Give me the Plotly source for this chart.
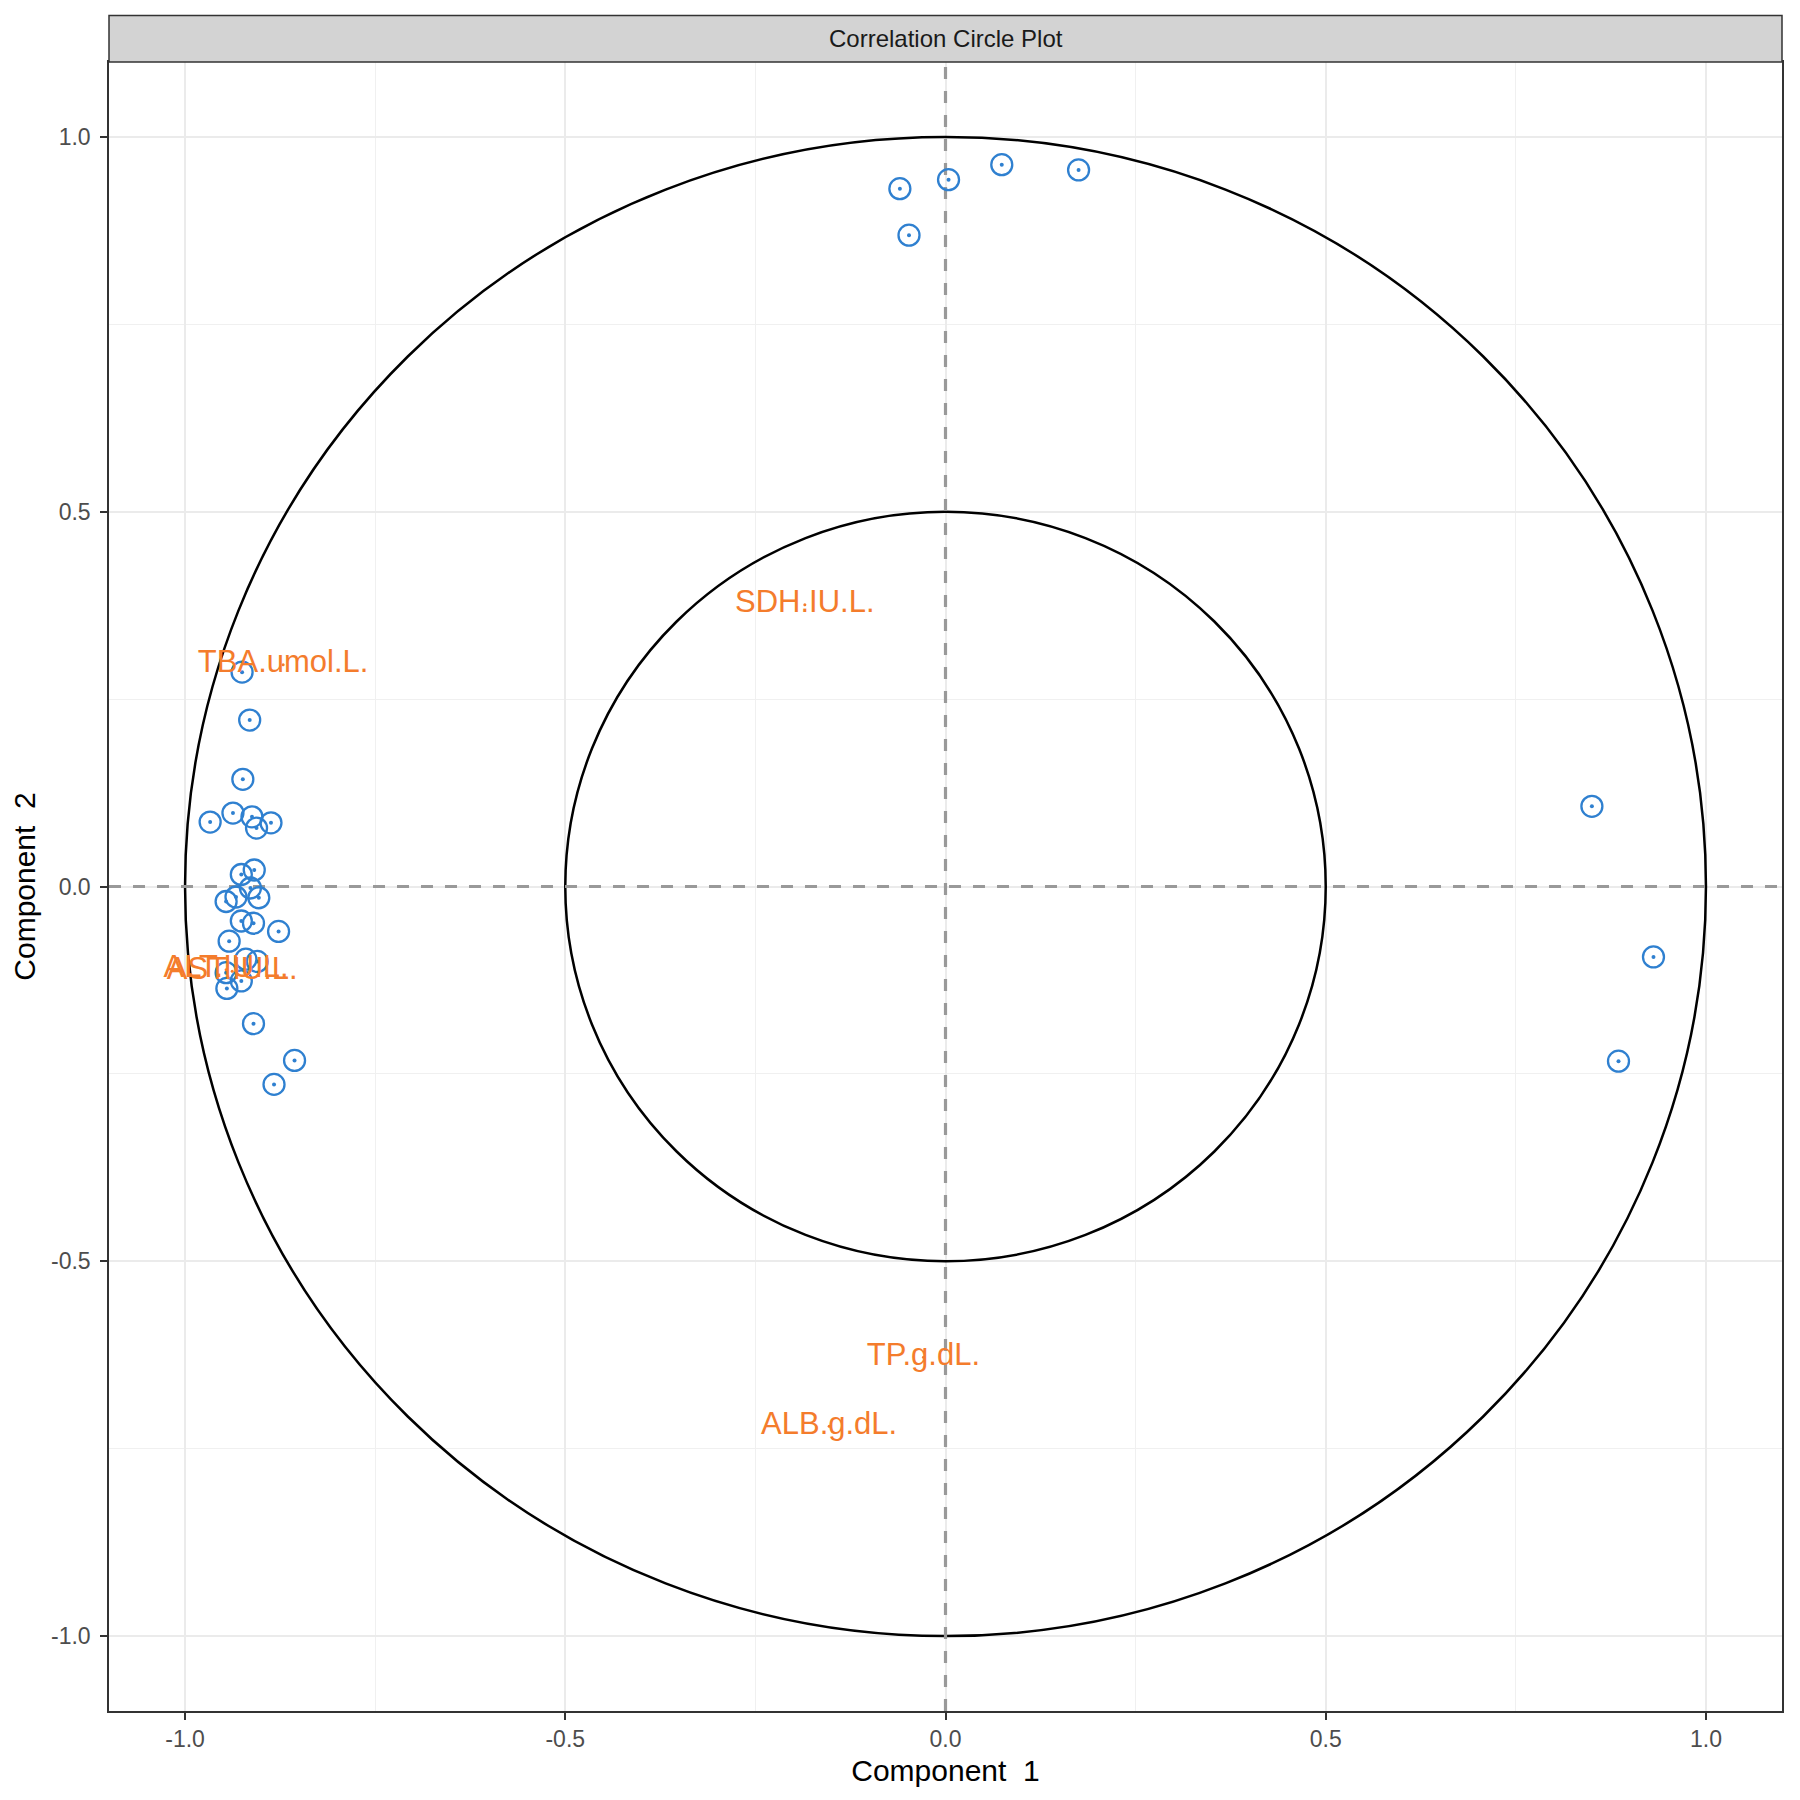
import plotly.graph_objects as go

# sample coordinates on the two components
comp1 = [-0.060, 0.004, 0.074, 0.175, -0.048,
         0.850, 0.931, 0.885,
         -0.925, -0.915, -0.924, -0.967, -0.937, -0.912, -0.906, -0.887,
         -0.909, -0.926, -0.914, -0.933, -0.946, -0.903, -0.926, -0.910,
         -0.877, -0.942, -0.920, -0.905, -0.946, -0.926, -0.945, -0.910,
         -0.856, -0.883]
comp2 = [0.931, 0.943, 0.963, 0.956, 0.869,
         0.107, -0.094, -0.233,
         0.286, 0.222, 0.143, 0.086, 0.098, 0.093, 0.078, 0.085,
         0.022, 0.016, -0.002, -0.014, -0.020, -0.015, -0.046, -0.049,
         -0.060, -0.073, -0.097, -0.100, -0.115, -0.126, -0.136, -0.183,
         -0.232, -0.264]

# variable labels
var_names = ["TBA.umol.L.", "SDH.IU.L.", "TP.g.dL.", "ALB.g.dL.", "ALT.IU.L.", "AST.IU.L."]
var_x = [-0.871, -0.185, -0.029, -0.153, -0.946, -0.938]
var_y = [0.296, 0.376, -0.628, -0.720, -0.111, -0.113]

circle_radii = [1.0, 0.5]
axis_range = [-1.1, 1.1]
tick_vals = [-1.0, -0.5, 0.0, 0.5, 1.0]
tick_text = ["-1.0", "-0.5", "0.0", "0.5", "1.0"]
minor_vals = [-0.75, -0.25, 0.25, 0.75]

blue = "#2F80D0"
orange = "#F47C2C"
font = "Liberation Sans, Arial, sans-serif"

fig = go.Figure()

# dashed zero lines (as traces so they sit above the grid)
dash_line = dict(color="#999999", width=3.2, dash="12px,12px")
fig.add_trace(go.Scatter(x=[0, 0], y=axis_range, mode="lines", line=dash_line,
                         showlegend=False, hoverinfo="skip"))
fig.add_trace(go.Scatter(x=axis_range, y=[0, 0], mode="lines", line=dash_line,
                         showlegend=False, hoverinfo="skip"))

# open circles + centre dots
fig.add_trace(go.Scatter(x=comp1, y=comp2, mode="markers",
                         marker=dict(symbol="circle-open", size=21, color=blue,
                                     line=dict(width=2.3, color=blue)),
                         showlegend=False, hoverinfo="skip"))
fig.add_trace(go.Scatter(x=comp1, y=comp2, mode="markers",
                         marker=dict(symbol="circle", size=4, color=blue),
                         showlegend=False, hoverinfo="skip"))

fig.add_trace(go.Scatter(x=var_x, y=var_y, mode="markers+text",
                         text=var_names, textposition="middle center",
                         textfont=dict(family=font, size=31, color=orange),
                         marker=dict(size=3, color=orange),
                         showlegend=False, hoverinfo="skip"))

shapes = []
for r in circle_radii:
    shapes.append(dict(type="circle", xref="x", yref="y", x0=-r, x1=r, y0=-r, y1=r,
                       line=dict(color="black", width=2.5), layer="between"))
# facet strip
shapes.append(dict(type="rect", xref="paper", yref="paper", x0=0, x1=1, y0=1, y1=1.0282,
                   fillcolor="#d3d3d3", line=dict(color="#333333", width=1.5), layer="above"))

axis_style = dict(range=axis_range, tickvals=tick_vals, ticktext=tick_text, automargin=False,
                  showgrid=True, gridcolor="#ebebeb", gridwidth=2.3,
                  minor=dict(tickvals=minor_vals, showgrid=True, gridcolor="#f0f0f0", gridwidth=1.2),
                  zeroline=False, showline=True, mirror=True, linecolor="#333333", linewidth=1.5,
                  ticks="outside", ticklen=7, tickwidth=1.5, tickcolor="#333333",
                  tickfont=dict(family=font, size=23, color="#4d4d4d"))

fig.update_layout(
    width=1800, height=1800,
    margin=dict(l=101, r=26, t=54, b=97),
    plot_bgcolor="white", paper_bgcolor="white",
    shapes=shapes,
    xaxis=dict(axis_style, ticklabelstandoff=0,
               title=dict(text="Component\u00a0 1", standoff=9,
                          font=dict(family=font, size=30, color="black"))),
    yaxis=dict(axis_style, ticklabelstandoff=5,
               title=dict(text="Component\u00a0 2", standoff=14,
                          font=dict(family=font, size=30, color="black"))),
    annotations=[dict(text="Correlation Circle Plot", xref="paper", yref="paper",
                      x=0.5, y=1.0141, xanchor="center", yanchor="middle", showarrow=False,
                      font=dict(family=font, size=24, color="#1a1a1a"))],
)

fig.write_html("out.html")
